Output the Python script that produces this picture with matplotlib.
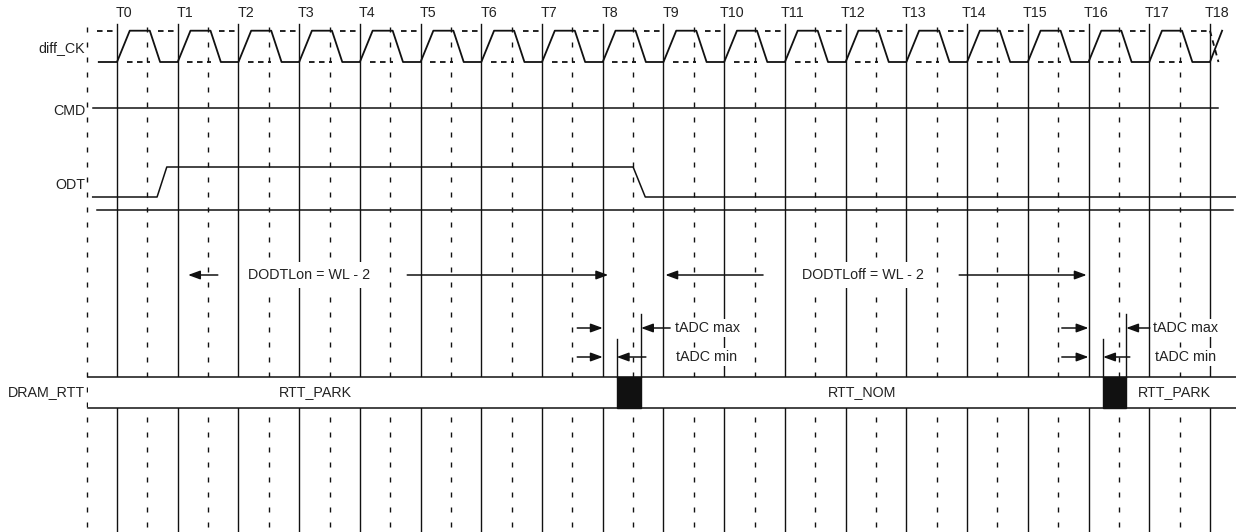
import matplotlib
matplotlib.use('Agg')
import matplotlib.pyplot as plt
from matplotlib.patches import Rectangle

plt.rcParams['font.family'] = ['Liberation Sans', 'DejaVu Sans']
plt.rcParams['lines.scale_dashes'] = False

# ---------------- data (time in clock cycles) ----------------
clock_labels = ["T%d" % i for i in range(19)]
clock_times = list(range(19))
half_times = [i - 0.5 for i in range(19)]
signal_names = ["diff_CK", "CMD", "ODT", "DRAM_RTT"]

# ODT waveform: (time, level 0/1)
odt_times = [-0.40, 0.66, 0.82, 8.50, 8.70, 18.45]
odt_levels = [0, 0, 1, 1, 0, 0]

# DRAM_RTT segments
rtt_labels = ["RTT_PARK", "RTT_NOM", "RTT_PARK"]
rtt_starts = [-0.48, 8.63, 16.62]
rtt_ends = [8.23, 16.24, 18.45]
rtt_label_pos = [3.26, 12.27, 17.42]
rtt_trans_starts = [8.23, 16.24]
rtt_trans_ends = [8.63, 16.62]

# DODTL annotations
dodtl_labels = ["DODTLon = WL - 2", "DODTLoff = WL - 2"]
dodtl_text_pos = [3.17, 12.29]
dodtl_left_tip = [1.17, 9.03]
dodtl_left_tail = [1.66, 10.64]
dodtl_right_tail = [4.78, 13.87]
dodtl_right_tip = [8.09, 15.97]

# tADC annotations
tadc_ref = [8.0, 16.0]
tadc_ref_tail = [7.58, 15.56]
tadc_max_edge = [8.63, 16.62]
tadc_min_edge = [8.23, 16.24]
tadc_max_tail = [9.11, 17.01]
tadc_min_tail = [8.71, 16.68]
tadc_max_text = [9.19, 17.06]
tadc_min_text = [9.20, 17.10]

# ---------------- layout ----------------
PX0, PER = 117.0, 60.72
W, H = 1236, 532
fig = plt.figure(figsize=(W / 100, H / 100), dpi=100)
ax = fig.add_axes([0, 0, 1, 1])
ax.set_xlim(-PX0 / PER, (W - PX0) / PER)
ax.set_ylim(H, 0)
ax.axis('off')

Y_LBL = 13
CK_HI, CK_LO = 30.7, 62.0
Y_CMD = 108
ODT_HI, ODT_LO = 167, 197
Y_SEP = 210
Y_DODTL = 275
Y_MAX, Y_MIN = 328, 357
RTT_TOP, RTT_BOT = 377, 408

LC = '#111111'
TC = '#222222'
FS = 10.3
dash = (0, (3.6, 7.2))
ck_dash = (0, (4.0, 3.2))

# vertical grid lines
for t in clock_times:
    ax.plot([t, t], [24, H], color=LC, lw=1.0, zorder=1)
for t in half_times:
    ax.plot([t, t], [27, H], color=LC, lw=1.0, ls=dash, zorder=1)

# clock labels
for t, lab in zip(clock_times, clock_labels):
    ax.text(t + 0.12, Y_LBL, lab, ha='center', va='center', fontsize=FS, color=TC)

# signal labels
sig_y = [48, 111, 185, 392]
for name, y in zip(signal_names, sig_y):
    ax.text(-0.52, y, name, ha='right', va='center', fontsize=FS, color=TC)

# diff_CK (solid true clock)
xs, ys = [-0.3], [CK_LO]
for k in clock_times[:-1]:
    xs += [k, k + 0.21, k + 0.54, k + 0.71]
    ys += [CK_LO, CK_HI, CK_HI, CK_LO]
last = clock_times[-1]
xs += [last, last + 0.2]
ys += [CK_LO, CK_HI]
ax.plot(xs, ys, color=LC, lw=1.3, zorder=3)

# complementary clock (dashed, flat portions)
ax.plot([-0.33, 0.0], [CK_HI, CK_HI], color=LC, lw=1.3, ls=ck_dash, zorder=3)
for k in clock_times[:-1]:
    ax.plot([k + 0.16, k + 0.54], [CK_LO, CK_LO], color=LC, lw=1.3, ls=ck_dash, zorder=3)
    ax.plot([k + 0.68, k + 1.0], [CK_HI, CK_HI], color=LC, lw=1.3, ls=ck_dash, zorder=3)
ax.plot([last, last + 0.14], [CK_HI, CK_LO], color=LC, lw=1.3, ls=ck_dash, zorder=3)

# CMD
ax.plot([-0.4, 18.13], [Y_CMD, Y_CMD], color=LC, lw=1.1, zorder=3)

# ODT
ax.plot(odt_times, [ODT_LO + (ODT_HI - ODT_LO) * v for v in odt_levels],
        color=LC, lw=1.1, zorder=3)
ax.plot([-0.33, 18.38], [Y_SEP, Y_SEP], color=LC, lw=1.1, zorder=3)

# arrows helper
def arrow(x_tail, x_tip, y):
    ax.annotate('', xy=(x_tip, y), xytext=(x_tail, y),
                arrowprops=dict(arrowstyle='-|>,head_length=0.6,head_width=0.22',
                                mutation_scale=12, color=LC, lw=1.1,
                                shrinkA=0, shrinkB=0), zorder=4)

bb = dict(facecolor='white', edgecolor='none', pad=1.5)

# DODTL
for i in range(2):
    arrow(dodtl_left_tail[i], dodtl_left_tip[i], Y_DODTL)
    arrow(dodtl_right_tail[i], dodtl_right_tip[i], Y_DODTL)
    ax.text(dodtl_text_pos[i], Y_DODTL, dodtl_labels[i], ha='center', va='center',
            fontsize=FS, color=TC, bbox=dict(facecolor='white', edgecolor='none', pad=4),
            zorder=5)

# tADC
for i in range(2):
    arrow(tadc_ref_tail[i], tadc_ref[i], Y_MAX)
    arrow(tadc_ref_tail[i], tadc_ref[i], Y_MIN)
    arrow(tadc_max_tail[i], tadc_max_edge[i], Y_MAX)
    arrow(tadc_min_tail[i], tadc_min_edge[i], Y_MIN)
    ax.plot([tadc_max_edge[i]] * 2, [Y_MAX - 14, RTT_TOP], color=LC, lw=1.0, zorder=3)
    ax.plot([tadc_min_edge[i]] * 2, [Y_MIN - 18, RTT_TOP], color=LC, lw=1.0, zorder=3)
    ax.text(tadc_max_text[i], Y_MAX, "tADC max", ha='left', va='center',
            fontsize=FS, color=TC, bbox=bb, zorder=5)
    ax.text(tadc_min_text[i], Y_MIN, "tADC min", ha='left', va='center',
            fontsize=FS, color=TC, bbox=bb, zorder=5)

# DRAM_RTT
ax.add_patch(Rectangle((-0.48, RTT_TOP), 18.45 + 0.48, RTT_BOT - RTT_TOP,
                       facecolor='white', edgecolor='none', zorder=2))
ax.plot([-0.48, 18.45], [RTT_TOP, RTT_TOP], color=LC, lw=1.1, zorder=3)
ax.plot([-0.48, 18.45], [RTT_BOT, RTT_BOT], color=LC, lw=1.1, zorder=3)
for s, e in zip(rtt_trans_starts, rtt_trans_ends):
    ax.add_patch(Rectangle((s, RTT_TOP), e - s, RTT_BOT - RTT_TOP,
                           facecolor='#111111', edgecolor='#111111', lw=1.0, zorder=3))
for lab, x in zip(rtt_labels, rtt_label_pos):
    ax.text(x, (RTT_TOP + RTT_BOT) / 2, lab, ha='center', va='center',
            fontsize=FS, color=TC, zorder=5)

fig.savefig('out.png', dpi=100)
